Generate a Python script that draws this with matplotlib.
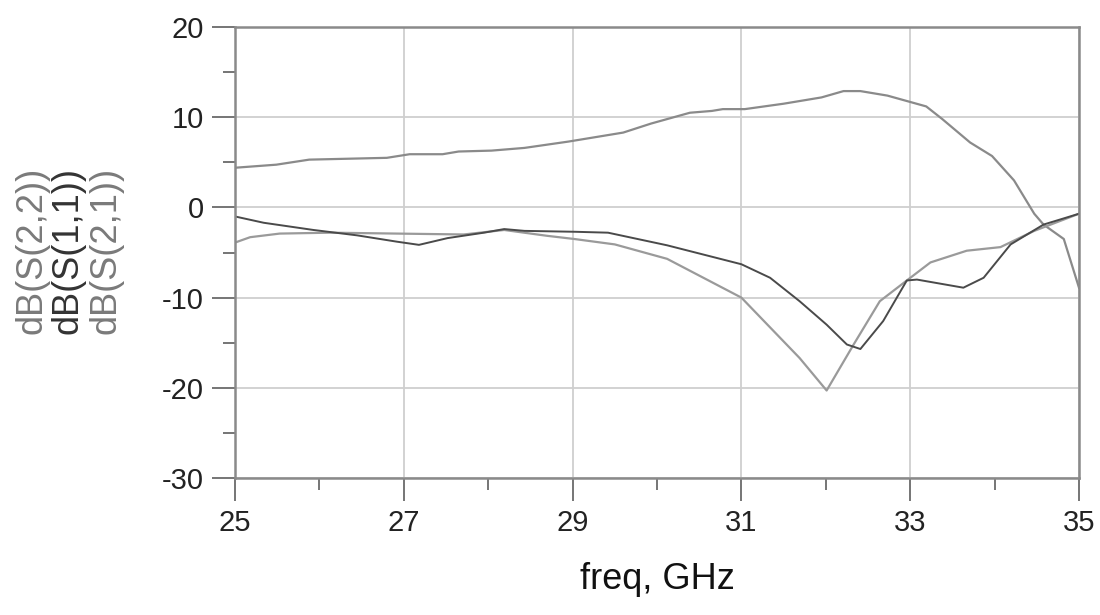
import matplotlib
matplotlib.use("Agg")
import matplotlib.pyplot as plt
import numpy as np

# S-parameter sweep, freq in GHz, values in dB
freq_s21 = [25.0, 25.49, 25.88, 26.8, 27.07, 27.46, 27.65, 28.04, 28.43, 28.95,
            29.6, 29.93, 30.39, 30.65, 30.78, 31.04, 31.5, 31.95, 32.21, 32.41,
            32.73, 33.19, 33.38, 33.71, 33.97, 34.23, 34.47, 34.58, 34.82, 35.0]
s21_db = [4.4, 4.74, 5.3, 5.5, 5.9, 5.9, 6.2, 6.3, 6.6, 7.3,
          8.3, 9.3, 10.5, 10.7, 10.9, 10.9, 11.5, 12.2, 12.9, 12.9,
          12.4, 11.2, 9.8, 7.2, 5.7, 3.0, -0.7, -1.9, -3.5, -8.9]

freq_s11 = [25.0, 25.34, 25.93, 26.45, 26.92, 27.18, 27.52, 27.95, 28.19, 28.43,
            29.03, 29.42, 30.12, 31.0, 31.34, 31.69, 32.01, 32.25, 32.41, 32.68,
            32.96, 33.08, 33.63, 33.87, 34.19, 34.58, 35.0]
s11_db = [-1.0, -1.7, -2.5, -3.1, -3.8, -4.15, -3.4, -2.8, -2.4, -2.6,
          -2.7, -2.8, -4.2, -6.3, -7.8, -10.4, -13.0, -15.2, -15.7, -12.6,
          -8.1, -8.0, -8.9, -7.8, -4.1, -1.9, -0.7]

freq_s22 = [25.0, 25.18, 25.53, 26.13, 26.92, 27.71, 28.19, 28.7, 29.02, 29.5,
            30.12, 31.0, 31.69, 32.01, 32.33, 32.64, 32.96, 33.24, 33.67, 34.07,
            34.47, 35.0]
s22_db = [-3.9, -3.3, -2.9, -2.8, -2.9, -3.0, -2.5, -3.15, -3.5, -4.1,
          -5.7, -10.0, -16.7, -20.3, -15.2, -10.4, -8.1, -6.1, -4.8, -4.4,
          -2.6, -0.7]

light = "#8a8a8a"
dark = "#4a4a4a"

plt.rcParams["font.family"] = ["Liberation Sans", "DejaVu Sans"]
plt.rcParams["axes.unicode_minus"] = False

fig = plt.figure(figsize=(11, 6.15), dpi=100)
ax = fig.add_axes([0.2136, 0.2228, 0.9809 - 0.2136, 0.956 - 0.2228])

ax.plot(freq_s21, s21_db, color=light, lw=1.6)
ax.plot(freq_s22, s22_db, color="#9a9a9a", lw=1.6)
ax.plot(freq_s11, s11_db, color=dark, lw=1.4)

ax.set_xlim(25, 35)
ax.set_ylim(-30, 20)
ax.set_xticks(np.arange(25, 36, 2))
ax.set_xticks(np.arange(26, 35, 2), minor=True)
ax.set_yticks(np.arange(-30, 21, 10))
ax.set_yticks(np.arange(-25, 20, 10), minor=True)

ax.grid(True, which="major", color="#cfcfcf", lw=1.3)
ax.set_axisbelow(True)
for sp in ax.spines.values():
    sp.set_color("#8a8a8a")
    sp.set_linewidth(1.8)

ax.tick_params(which="major", direction="out", length=16.5, width=1.3,
               color="#6a6a6a", labelsize=21, pad=6, labelcolor="#222222")
ax.tick_params(which="minor", direction="out", length=8.5, width=1.3,
               color="#6a6a6a")

ax.set_xlabel("freq, GHz", fontsize=26, color="#111111", labelpad=18)

# stacked trace names on the left, one column per trace
names = ["dB(S(2,2))", "dB(S(1,1))", "dB(S(2,1))"]
name_colors = ["#7a7a7a", "#333333", "#7a7a7a"]
name_x = [32, 68, 106]
for name, c, xp in zip(names, name_colors, name_x):
    fig.text(xp / 1100, 1 - 250 / 615, name, rotation=90, ha="center",
             va="center", fontsize=26, color=c)

fig.savefig("out.png", dpi=100)
